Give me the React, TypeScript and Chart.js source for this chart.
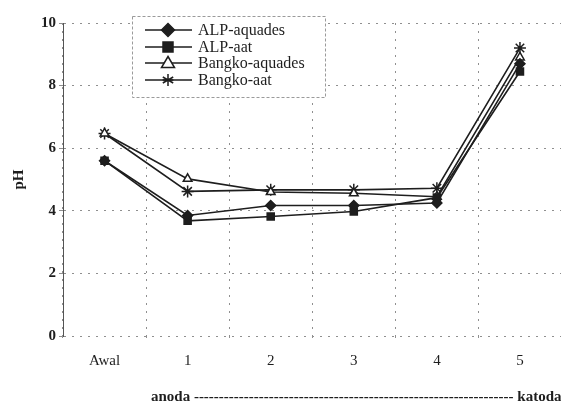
import React, { useEffect, useRef } from "react";
import { Chart, registerables } from "chart.js";

Chart.register(...registerables);

const categories = ["Awal", "1", "2", "3", "4", "5"];
const alpAquades = [5.6, 3.85, 4.17, 4.17, 4.25, 8.7];
const alpAat = [5.6, 3.68, 3.82, 3.98, 4.42, 8.45];
const bangkoAquades = [6.47, 5.02, 4.6, 4.56, 4.45, 8.9];
const bangkoAat = [6.47, 4.62, 4.67, 4.67, 4.72, 9.2];
const seriesNames = ["ALP-aquades", "ALP-aat", "Bangko-aquades", "Bangko-aat"];
const yTicks = [0, 2, 4, 6, 8, 10];

const FONT = "'Liberation Serif', 'Times New Roman', serif";
const INK = "#1e1e1e";
const GRID = "#8f8f8f";

function drawMarker(ctx: any, style: string, r: number, x: number, y: number) {
  ctx.beginPath();
  switch (style) {
    case "rect":
      ctx.rect(x - r, y - r, 2 * r, 2 * r);
      ctx.fill();
      ctx.stroke();
      break;
    case "rectRot":
      ctx.moveTo(x, y - r * 1.3);
      ctx.lineTo(x + r * 1.3, y);
      ctx.lineTo(x, y + r * 1.3);
      ctx.lineTo(x - r * 1.3, y);
      ctx.closePath();
      ctx.fill();
      ctx.stroke();
      break;
    case "triangle": {
      const s = r * 1.3;
      ctx.moveTo(x, y - s);
      ctx.lineTo(x + s, y + s * 0.7);
      ctx.lineTo(x - s, y + s * 0.7);
      ctx.closePath();
      ctx.fill();
      ctx.stroke();
      break;
    }
    case "star":
      for (let k = 0; k < 3; k++) {
        const a = (Math.PI / 3) * k + Math.PI / 2;
        ctx.moveTo(x + Math.cos(a) * r, y + Math.sin(a) * r);
        ctx.lineTo(x - Math.cos(a) * r, y - Math.sin(a) * r);
      }
      ctx.moveTo(x - r * 0.9, y);
      ctx.lineTo(x + r * 0.9, y);
      ctx.stroke();
      break;
  }
}

const legendPlugin = {
  id: "boxLegend",
  afterDraw(chart: any) {
    const ctx = chart.ctx;
    const x0 = 132, y0 = 16, w = 193, h = 81;
    ctx.save();
    ctx.fillStyle = "#ffffff";
    ctx.fillRect(x0, y0, w, h);
    ctx.strokeStyle = "#9a9a9a";
    ctx.lineWidth = 1;
    ctx.setLineDash([3, 2]);
    ctx.strokeRect(x0 + 0.5, y0 + 0.5, w, h);
    ctx.setLineDash([]);
    const rows = [30, 47, 63, 80];
    chart.data.datasets.forEach((ds: any, i: number) => {
      const y = rows[i];
      ctx.strokeStyle = INK;
      ctx.lineWidth = 1.6;
      ctx.beginPath();
      ctx.moveTo(145, y);
      ctx.lineTo(192, y);
      ctx.stroke();
      ctx.fillStyle = ds.pointBackgroundColor;
      ctx.strokeStyle = INK;
      ctx.lineWidth = 1.5;
      drawMarker(ctx, ds.pointStyle, ds.pointRadius, 168, y);
      ctx.fillStyle = INK;
      ctx.font = `16px ${FONT}`;
      ctx.textBaseline = "middle";
      ctx.textAlign = "left";
      ctx.fillText(ds.label, 198, y + 1);
    });
    ctx.restore();
  },
};

export default function App() {
  const ref = useRef<HTMLCanvasElement | null>(null);

  useEffect(() => {
    if (!ref.current) return;
    const mk = (label: string, data: number[], style: string, fill: string, r: number) => ({
      label,
      data,
      borderColor: INK,
      borderWidth: 1.6,
      pointStyle: style,
      pointRadius: r,
      pointHoverRadius: r,
      pointBackgroundColor: fill,
      pointBorderColor: INK,
      pointBorderWidth: 1.5,
      tension: 0,
      fill: false,
    });
    const chart = new Chart(ref.current, {
      type: "line",
      data: {
        labels: categories,
        datasets: [
          mk(seriesNames[0], alpAquades, "rectRot", INK, 5),
          mk(seriesNames[1], alpAat, "rect", INK, 5),
          mk(seriesNames[2], bangkoAquades, "triangle", "#ffffff", 5),
          mk(seriesNames[3], bangkoAat, "star", INK, 6),
        ],
      },
      options: {
        animation: false,
        responsive: false,
        devicePixelRatio: 1,
        layout: { padding: { top: 23, right: 0, left: 0, bottom: 0 } },
        plugins: {
          legend: { display: false },
          tooltip: { enabled: false },
        },
        scales: {
          x: {
            type: "category",
            offset: true,
            grid: {
              offset: true,
              color: GRID,
              lineWidth: 1,
              tickLength: 4,
              tickBorderDash: [2, 2],
              drawOnChartArea: true,
            } as any,
            border: { display: false, color: GRID, dash: [2, 6] } as any,
            ticks: {
              color: INK,
              font: { family: FONT, size: 15 },
              padding: 12,
              maxRotation: 0,
            },
            title: {
              display: true,
              text: "anoda ---------------------------------------------------------------- katoda",
              align: "end",
              color: INK,
              font: { family: FONT, size: 15, weight: "bold" },
              padding: { top: 6, bottom: 2 },
            },
          },
          y: {
            min: 0,
            max: 10,
            afterBuildTicks: (s: any) => {
              s.ticks = yTicks.map((v) => ({ value: v }));
            },
            afterFit: (s: any) => {
              s.width = 63;
            },
            grid: {
              color: GRID,
              lineWidth: 1,
              tickLength: 4,
            } as any,
            border: { color: "#555555", dash: [2, 6] } as any,
            ticks: {
              color: INK,
              font: { family: FONT, size: 15, weight: "bold" },
              padding: 3,
            },
            title: {
              display: true,
              text: "pH",
              color: INK,
              font: { family: FONT, size: 15, weight: "bold" },
              padding: { top: 10, bottom: 0 },
            },
          },
        },
      } as any,
      plugins: [legendPlugin],
    });
    return () => chart.destroy();
  }, []);

  return (
    <div style={{ position: "fixed", left: 0, top: 0, width: 561, height: 408, overflow: "hidden", background: "#fff" }}>
      <canvas ref={ref} width={569} height={408} style={{ display: "block" }} />
    </div>
  );
}
